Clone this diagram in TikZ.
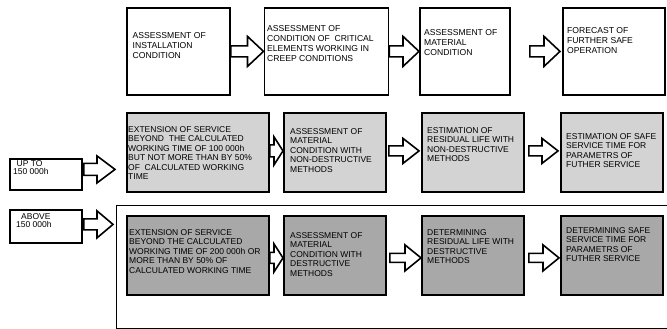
\documentclass[tikz,border=0pt]{standalone}
\usepackage{fontspec}
\setmainfont{Liberation Sans}
\usetikzlibrary{calc}
\definecolor{grayA}{RGB}{211,211,211}
\definecolor{grayB}{RGB}{168,168,168}
\tikzset{
 box/.style={draw=black, line width=1.8pt, rectangle, inner sep=0pt, anchor=north west},
 lightbox/.style={box, fill=grayA},
 darkbox/.style={box, fill=grayB},
 txt/.style={anchor=north west, inner sep=0pt, align=left, font=\fontsize{8.5}{9.5}\selectfont},
 toptxt/.style={txt, font=\fontsize{8.6}{10.2}\selectfont},
 smalltxt/.style={txt, font=\fontsize{8.5}{8.5}\selectfont},
 barrow/.style={draw=black, fill=white, line width=1.6pt, line join=miter},
 bigframe/.style={draw=black, line width=1.4pt, rectangle, inner sep=0pt, anchor=north west}
}
\newcommand\blockarrow[5]{\draw[barrow] let \p1=#1, \p2=#2 in
 (\x1,\y1+#5) -- (\x2-#3,\y1+#5) -- (\x2-#3,\y1+#4) -- (\x2,\y1) -- (\x2-#3,\y1-#4) -- (\x2-#3,\y1-#5) -- (\x1,\y1-#5) -- cycle;}
\begin{document}
\begin{tikzpicture}[x=1pt,y=-1pt]
\useasboundingbox (0,0) rectangle (667,329);
% top row
\node[box, minimum width=103pt, minimum height=87pt] (t1) at (126,7) {};
\node[box, minimum width=124pt, minimum height=87pt] (t2) at (263.5,7) {};
\node[box, minimum width=90pt, minimum height=87pt] (t3) at (419,7) {};
\node[box, minimum width=102pt, minimum height=87pt] (t4) at (562,7) {};
\node[toptxt] (t1t) at (132.5,32) {ASSESSMENT OF\\INSTALLATION\\CONDITION};
\node[toptxt] (t2t) at (267,25) {ASSESSMENT OF\\CONDITION OF\ \ CRITICAL\\ELEMENTS WORKING IN\\CREEP CONDITIONS};
\node[toptxt] (t3t) at (424,29) {ASSESSMENT OF\\MATERIAL\\CONDITION};
\node[toptxt] (t4t) at (567,27) {FORECAST OF\\FURTHER SAFE\\OPERATION};
\blockarrow{(t1.east)}{(t2.west)}{16pt}{15pt}{5.5pt}
\blockarrow{(t2.east)}{(t3.west)}{16pt}{15pt}{5.5pt}
\blockarrow{([xshift=19pt]t3.east)}{([xshift=-2pt]t4.west)}{16pt}{15pt}{5.5pt}
% left boxes
\node[box, minimum width=72pt, minimum height=31pt] (up) at (9,158) {};
\node[smalltxt] (upt) at (13,160) {\hspace{3.5pt}UP TO\\150 000h};
\node[box, minimum width=72pt, minimum height=33pt] (ab) at (9,209) {};
\node[smalltxt] (abt) at (16,213) {\hspace{5pt}ABOVE\\150 000h};
% frame
\node[bigframe, minimum width=556pt, minimum height=122.5pt] (fr) at (116,205) {};
% row 2
\node[lightbox, minimum width=142pt, minimum height=79pt] (e2) at (126,112) {};
\node[lightbox, minimum width=102pt, minimum height=79pt] (a2) at (283,112) {};
\node[lightbox, minimum width=102pt, minimum height=79pt] (r2) at (421,112) {};
\node[lightbox, minimum width=102pt, minimum height=79pt] (s2) at (560,112) {};
\node[txt] (e2t) at (128,126) {EXTENSION OF SERVICE\\BEYOND\ \ THE CALCULATED\\WORKING TIME OF 100 000h\\BUT NOT MORE THAN BY 50\%\\OF\ \ CALCULATED WORKING\\TIME};
\node[txt] (a2t) at (290,128) {ASSESSMENT OF\\MATERIAL\\CONDITION WITH\\NON-DESTRUCTIVE\\METHODS};
\node[txt] (r2t) at (427,127) {ESTIMATION OF\\RESIDUAL LIFE WITH\\NON-DESTRUCTIVE\\METHODS};
\node[txt] (s2t) at (566,133) {ESTIMATION OF SAFE\\SERVICE TIME FOR\\PARAMETRS OF\\FUTHER SERVICE};
% row 3
\node[darkbox, minimum width=142pt, minimum height=79pt] (e3) at (126,215) {};
\node[darkbox, minimum width=102pt, minimum height=79pt] (a3) at (283,215) {};
\node[darkbox, minimum width=102pt, minimum height=79pt] (r3) at (421,215) {};
\node[darkbox, minimum width=102pt, minimum height=79pt] (s3) at (560,215) {};
\node[txt] (e3t) at (129,229) {EXTENSION OF SERVICE\\BEYOND THE CALCULATED\\WORKING TIME OF 200 000h OR\\MORE THAN BY 50\% OF\\CALCULATED WORKING TIME};
\node[txt] (a3t) at (290,232) {ASSESSMENT OF\\MATERIAL\\CONDITION WITH\\DESTRUCTIVE\\METHODS};
\node[txt] (r3t) at (427,229) {DETERMINING\\RESIDUAL LIFE WITH\\DESTRUCTIVE\\METHODS};
\node[txt] (s3t) at (566,227) {DETERMINING SAFE\\SERVICE TIME FOR\\PARAMETRS OF\\FUTHER SERVICE};
% arrows row 2
\blockarrow{([yshift=1.5pt]e2.east)}{(a2.west)}{9pt}{14pt}{6pt}
\blockarrow{([xshift=2pt,yshift=1.5pt]a2.east)}{([xshift=-2pt]r2.west)}{16pt}{12.5pt}{5pt}
\blockarrow{([xshift=4pt,yshift=1.5pt]r2.east)}{([xshift=-2pt]s2.west)}{16pt}{12.5pt}{5pt}
% arrows row 3
\blockarrow{([yshift=-2.5pt]e3.east)}{(a3.west)}{9pt}{14pt}{5.5pt}
\blockarrow{([xshift=3pt,yshift=-2.5pt]a3.east)}{(r3.west)}{16pt}{13pt}{4.5pt}
\blockarrow{([xshift=4pt,yshift=-2.5pt]r3.east)}{([xshift=-1pt]s3.west)}{16pt}{13pt}{4.5pt}
% left arrows
\blockarrow{([xshift=1pt,yshift=5pt]up.east)}{([xshift=-11pt]e2.west)}{18pt}{13.5pt}{6pt}
\blockarrow{([xshift=1pt,yshift=2pt]ab.east)}{([xshift=-3pt]fr.west)}{16pt}{13.5pt}{5.5pt}
\end{tikzpicture}
\end{document}
